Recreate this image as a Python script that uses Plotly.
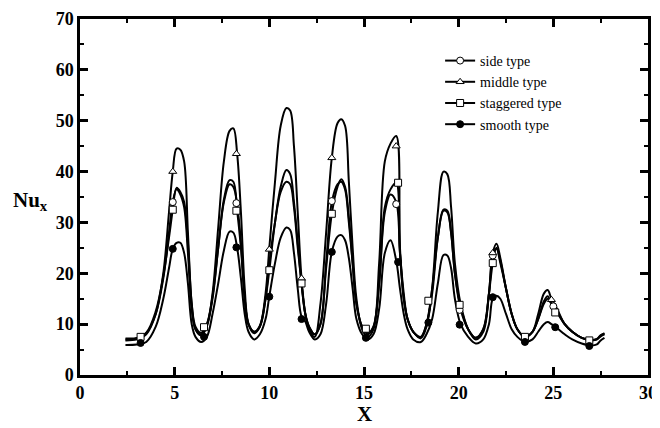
import plotly.graph_objects as go

# shared x positions along the channel
x = [2.4, 3.0, 3.5, 4.0, 4.4, 4.7, 4.9, 5.1, 5.3, 5.5, 5.7, 5.9, 6.1, 6.4, 6.7,
     7.0, 7.3, 7.6, 7.9, 8.1, 8.3, 8.5, 8.7, 8.9, 9.2, 9.5, 9.8, 10.0, 10.3, 10.6,
     10.9, 11.1, 11.3, 11.5, 11.7, 11.9, 12.1, 12.4, 12.7, 13.0, 13.3, 13.6, 13.8,
     14.0, 14.2, 14.4, 14.6, 14.9, 15.2, 15.5, 15.8, 16.1, 16.4, 16.7, 16.9, 17.1,
     17.3, 17.6, 18.0, 18.3, 18.6, 18.9, 19.2, 19.4, 19.6, 19.8, 20.1, 20.5, 20.9,
     21.3, 21.6, 21.8, 22.0, 22.2, 22.5, 22.8, 23.1, 23.5, 23.9, 24.2, 24.5, 24.7,
     24.9, 25.2, 25.6, 26.0, 26.5, 27.0, 27.3, 27.5, 27.7]

side = [7.0, 7.2, 8.2, 12, 19, 28, 34, 36.5, 35.5, 33, 24, 13, 9, 8, 9.8,
        15, 25, 34, 37.5, 37, 33.5, 26, 15, 10, 8.5, 9.5, 15, 22, 30, 36,
        38, 37.5, 33, 25, 18, 12, 9.5, 8, 10, 22, 34, 37.5, 38,
        36.5, 30, 22, 14, 9.5, 8, 9.5, 18, 32, 35.5, 34, 24, 16,
        11, 8.5, 7.5, 10, 17, 27, 32.3, 32, 28, 20, 13, 9, 7.3,
        9, 16, 23.5, 24.8, 22, 17, 12, 9, 7.5, 8.5, 11, 14, 15,
        14, 12.5, 10, 8.5, 7.3, 6.9, 7.0, 7.6, 8.0]

middle = [6.8, 7.0, 8.0, 12, 20, 32, 40, 44.5, 44.3, 42, 28, 14, 9, 7.8, 9.5,
          16, 29, 42, 48, 48.5, 43.5, 32, 17, 10, 8.2, 9.5, 16, 25, 38, 49,
          52.5, 52, 45, 32, 19, 12, 9, 7.5, 14, 28, 42.7, 49.5, 50.3,
          49, 38, 25, 15, 9, 7.5, 9, 22, 42, 45.5, 47, 25, 15,
          11, 8.5, 7.2, 9.5, 17, 32, 40, 39.5, 33, 22, 14, 9, 7,
          8.5, 16, 24, 25.8, 23, 17, 12, 9, 7.5, 8.5, 12, 16, 16.7,
          15, 13, 10, 8.5, 7.3, 6.8, 7.0, 7.8, 8.2]

staggered = [7.2, 7.3, 8.3, 12.5, 19.5, 27, 32.5, 36.8, 36, 34, 26, 14, 9.5, 8.3, 10,
             15.5, 25, 34.5, 38.3, 38, 32.3, 25, 15, 10, 8.5, 9.7, 15, 20.6, 30, 37,
             40.3, 39.5, 34, 26, 18, 12, 9.5, 8, 10, 21, 31.7, 37, 38.5,
             37, 31, 22, 14, 9.5, 8.3, 9.5, 18, 33, 36.5, 37.8, 24, 15,
             11, 8.5, 7.5, 10, 16, 27, 32.5, 32.3, 28, 20, 13.5, 9, 7.3,
             9, 16, 22, 25, 22.5, 17, 12, 9, 7.5, 8.5, 11, 14.5, 15.5,
             14, 12.3, 10, 8.5, 7.3, 6.9, 7.1, 7.8, 8.2]

smooth = [5.9, 6.0, 6.5, 9.5, 15, 21, 24.8, 26, 26, 24, 18, 10, 7.5, 6.5, 7.5,
          12, 18, 24.5, 28.2, 28, 25, 19, 12, 8.5, 7, 8, 11, 15.5, 22, 27,
          29, 28.5, 24, 17, 11.5, 10.5, 8.5, 7, 8, 14, 24.2, 27.2, 27.5,
          26.5, 23, 17, 11, 8, 7, 8, 13, 24, 26.5, 22.5, 17, 12,
          9, 7, 6.5, 8, 11, 18, 23.6, 23.5, 21, 15, 10, 7.5, 6.2,
          7, 10, 15, 15.6, 15, 12, 9, 7.5, 6.5, 7, 8.5, 10, 10.4,
          10, 9.2, 8, 7, 6.2, 5.8, 6.0, 6.8, 7.3]

# symbol positions
side_mx = [4.9, 8.26, 13.3, 16.7, 20.05, 21.8, 25.0]
side_my = [34, 33.8, 34.2, 33.6, 12.8, 23.5, 13.5]
middle_mx = [4.9, 8.26, 10.0, 11.7, 13.3, 16.7, 21.8, 24.9]
middle_my = [40, 43.5, 24.7, 19, 42.7, 45, 24, 14.8]
stag_mx = [3.2, 4.9, 6.55, 8.26, 10.0, 11.7, 13.3, 15.1, 16.8, 18.4, 20.05, 21.8, 23.5, 25.1, 26.9]
stag_my = [7.5, 32.5, 9.4, 32.3, 20.6, 18, 31.7, 9.1, 37.8, 14.6, 13.8, 22, 7.5, 12.3, 6.8]
smooth_mx = [3.2, 4.9, 6.55, 8.26, 10.0, 11.7, 13.3, 15.1, 16.8, 18.4, 20.05, 21.8, 23.5, 25.1, 26.9]
smooth_my = [6.3, 24.8, 7.5, 25.1, 15.4, 11, 24.2, 7.3, 22.2, 10.3, 9.9, 15.3, 6.5, 9.4, 5.7]

series = [
    ("side type", side, side_mx, side_my, "circle-open"),
    ("middle type", middle, middle_mx, middle_my, "triangle-up-open"),
    ("staggered type", staggered, stag_mx, stag_my, "square-open"),
    ("smooth type", smooth, smooth_mx, smooth_my, "circle"),
]

font = "Liberation Serif"
fig = go.Figure()
for name, ys, mx, my, sym in series:
    fig.add_trace(go.Scatter(x=x, y=ys, mode="lines", line=dict(color="black", width=2),
                             line_shape="spline", showlegend=False, hoverinfo="skip"))
for name, ys, mx, my, sym in series:
    filled = sym == "circle"
    mk = dict(symbol=sym.replace("-open", ""), size=7,
              color="black" if filled else "white",
              line=dict(color="black", width=1))
    fig.add_trace(go.Scatter(x=mx, y=my, mode="markers", marker=mk, showlegend=False))
    # legend sample: line with symbol
    fig.add_trace(go.Scatter(x=[None], y=[None], mode="lines+markers", name=name,
                             marker=mk, line=dict(color="black", width=2)))

axis_common = dict(showline=True, linewidth=2.5, linecolor="black", mirror="allticks",
                   ticks="inside", ticklen=8, tickwidth=2.5, tickcolor="black",
                   showgrid=False, zeroline=False, automargin=False,
                   tickfont=dict(family=font, size=18, color="black", weight="bold"))
fig.update_xaxes(range=[0, 30], dtick=5, tick0=0,
                 minor=dict(dtick=2.5, ticks="inside", ticklen=4, tickwidth=2, tickcolor="black"),
                 **axis_common)
fig.update_yaxes(range=[0, 70], dtick=10, tick0=0,
                 minor=dict(dtick=5, ticks="inside", ticklen=4, tickwidth=2, tickcolor="black"),
                 **axis_common)

fig.add_annotation(text="<b>Nu</b><sub><b>x</b></sub>", xref="paper", yref="paper",
                   x=-0.122, y=0.49, xanchor="left", yanchor="middle", showarrow=False,
                   font=dict(family=font, size=21, color="black"))
fig.add_annotation(text="<b>X</b>", xref="paper", yref="paper", x=0.5, y=-0.15,
                   xanchor="center", yanchor="bottom", showarrow=False,
                   font=dict(family=font, size=21, color="black"))

# page body adds 8px offset, so the figure is sized 8px smaller
fig.update_layout(
    width=652, height=420,
    margin=dict(l=72, r=12, t=11, b=53),
    plot_bgcolor="white", paper_bgcolor="white",
    legend=dict(x=0.634, y=0.927, xanchor="left", yanchor="top", bgcolor="rgba(0,0,0,0)",
                font=dict(family=font, size=14, color="black"), tracegroupgap=0),
    showlegend=True,
)
fig.write_html("out.html")
